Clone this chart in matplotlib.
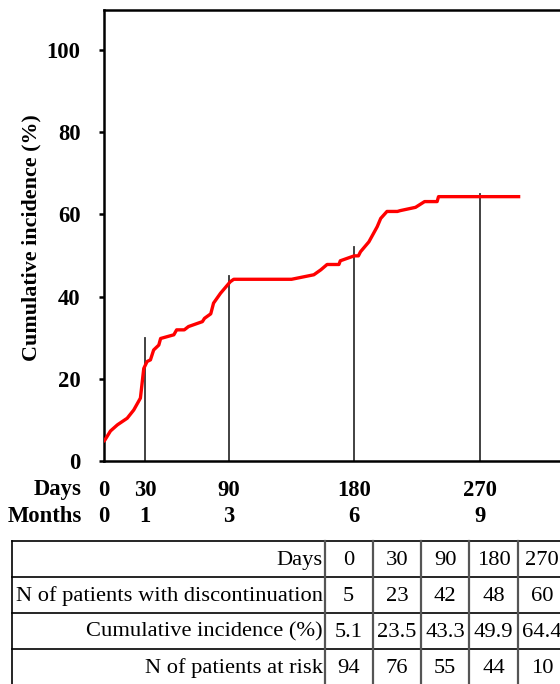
import matplotlib
matplotlib.use("Agg")
import matplotlib.pyplot as plt
from matplotlib.lines import Line2D
import matplotlib.transforms as mtransforms

# ---- data ----
curve_days = [0, 1, 5, 10, 17, 21.7, 26.5, 27.7, 28.9, 31.3, 33.7, 36, 39.7, 41,
              50.5, 52.5, 58, 61, 71, 72.5, 77, 79, 84, 91, 93.5, 135, 151, 156,
              160.5, 169, 170, 180, 183, 184.5, 190.5, 196.5, 199, 203.5, 211, 213,
              224, 230.5, 239.5, 240.5, 298]
curve_vals = [4.8, 5.1, 7.3, 8.8, 10.4, 12.4, 15.3, 18.9, 22.5, 24.2, 24.6, 27.0, 28.2, 29.8,
              30.7, 31.9, 31.9, 32.7, 33.9, 34.7, 35.8, 38.4, 40.8, 43.6, 44.2, 44.2, 45.3, 46.5,
              47.8, 47.8, 48.7, 49.9, 49.9, 50.9, 53.3, 57.0, 59.0, 60.7, 60.7, 60.9,
              61.7, 63.1, 63.1, 64.3, 64.3]
marker_days = [30, 90, 180, 270]
marker_tops = [30, 45, 52, 65]
tick_days = [0, 30, 90, 180, 270]
tick_months = ["0", "1", "3", "6", "9"]
y_ticks = [0, 20, 40, 60, 80, 100]

table_header = ["Days", "0", "30", "90", "180", "270"]
row_labels = ["N of patients with discontinuation", "Cumulative incidence (%)", "N of patients at risk"]
n_discontinuation = ["5", "23", "42", "48", "60"]
cum_incidence = ["5.1", "23.5", "43.3", "49.9", "64.4"]
n_at_risk = ["94", "76", "55", "44", "10"]

W, H = 560, 684
serif = ["Liberation Serif", "DejaVu Serif"]
plt.rcParams["font.family"] = serif
FS_B = 16.3
FS_T = 16.2

fig = plt.figure(figsize=(W / 100, H / 100), dpi=100)
ax_left, ax_bottom_px, ax_top_px = 103.5, 461, 10
ax = fig.add_axes([ax_left / W, 1 - ax_bottom_px / H, 1 - ax_left / W, (ax_bottom_px - ax_top_px) / H])
ax.set_xlim(0, (W - ax_left) / 1.393)
ax.set_ylim(0, 109.7)

ax.plot(curve_days, curve_vals, color="#ff0000", lw=2.4, solid_joinstyle="round", zorder=3)
for d, t in zip(marker_days, marker_tops):
    ax.plot([d, d], [0, t], color="#333333", lw=1.3, zorder=2)

for s in ["left", "bottom", "top"]:
    ax.spines[s].set_linewidth(1.8)
ax.spines["right"].set_visible(False)
ax.set_xticks([])
ax.set_yticks(y_ticks)
ax.set_yticklabels([str(v) for v in y_ticks], fontsize=FS_B, fontweight="bold")
ax.tick_params(axis="y", length=3.5, width=1.8, pad=13)

fig.text(31 / W, 1 - 238 / H, "Cumulative incidence (%)", rotation=90, ha="center",
         va="center", fontsize=15.8, fontweight="bold")

trans = mtransforms.blended_transform_factory(ax.transData, fig.transFigure)
y_days = 1 - 490 / H
y_months = 1 - 517 / H
fig.text(82 / W, y_days, "Days", ha="right", va="center", fontsize=FS_B, fontweight="bold")
fig.text(82 / W, y_months, "Months", ha="right", va="center", fontsize=FS_B, fontweight="bold")
for d, m in zip(tick_days, tick_months):
    ax.text(d, y_days, str(d), transform=trans, ha="center", va="center", fontsize=FS_B,
            fontweight="bold", clip_on=False)
    ax.text(d, y_months, m, transform=trans, ha="center", va="center", fontsize=FS_B,
            fontweight="bold", clip_on=False)

# ---- table in pixel coords ----
tab = fig.add_axes([0, 0, 1, 1], zorder=-1)
tab.set_xlim(0, W)
tab.set_ylim(H, 0)
tab.axis("off")
row_y = [541, 577.3, 613.3, 649.3, 685.5]
col_x = [12, 324.5, 372.7, 421, 469.3, 517.7, 566]
for y in row_y:
    tab.add_line(Line2D([col_x[0], col_x[-1]], [y, y], color="black", lw=1.2))
tab.add_line(Line2D([col_x[0], col_x[0]], [row_y[0], row_y[-1]], color="black", lw=1.2))
for x in col_x[1:]:
    tab.add_line(Line2D([x, x], [row_y[0], row_y[-1]], color="#555555", lw=1.6))

rows = [table_header,
        [row_labels[0]] + n_discontinuation,
        [row_labels[1]] + cum_incidence,
        [row_labels[2]] + n_at_risk]
for r, cells in enumerate(rows):
    yc = (row_y[r] + row_y[r + 1]) / 2 + 1
    tab.text(col_x[1] - 1.5, yc, cells[0], ha="right", va="center", fontsize=FS_T)
    for c, val in enumerate(cells[1:]):
        xc = (col_x[c + 1] + col_x[c + 2]) / 2
        tab.text(xc, yc, val, ha="center", va="center", fontsize=FS_T)

fig.savefig("out.png", dpi=100)
